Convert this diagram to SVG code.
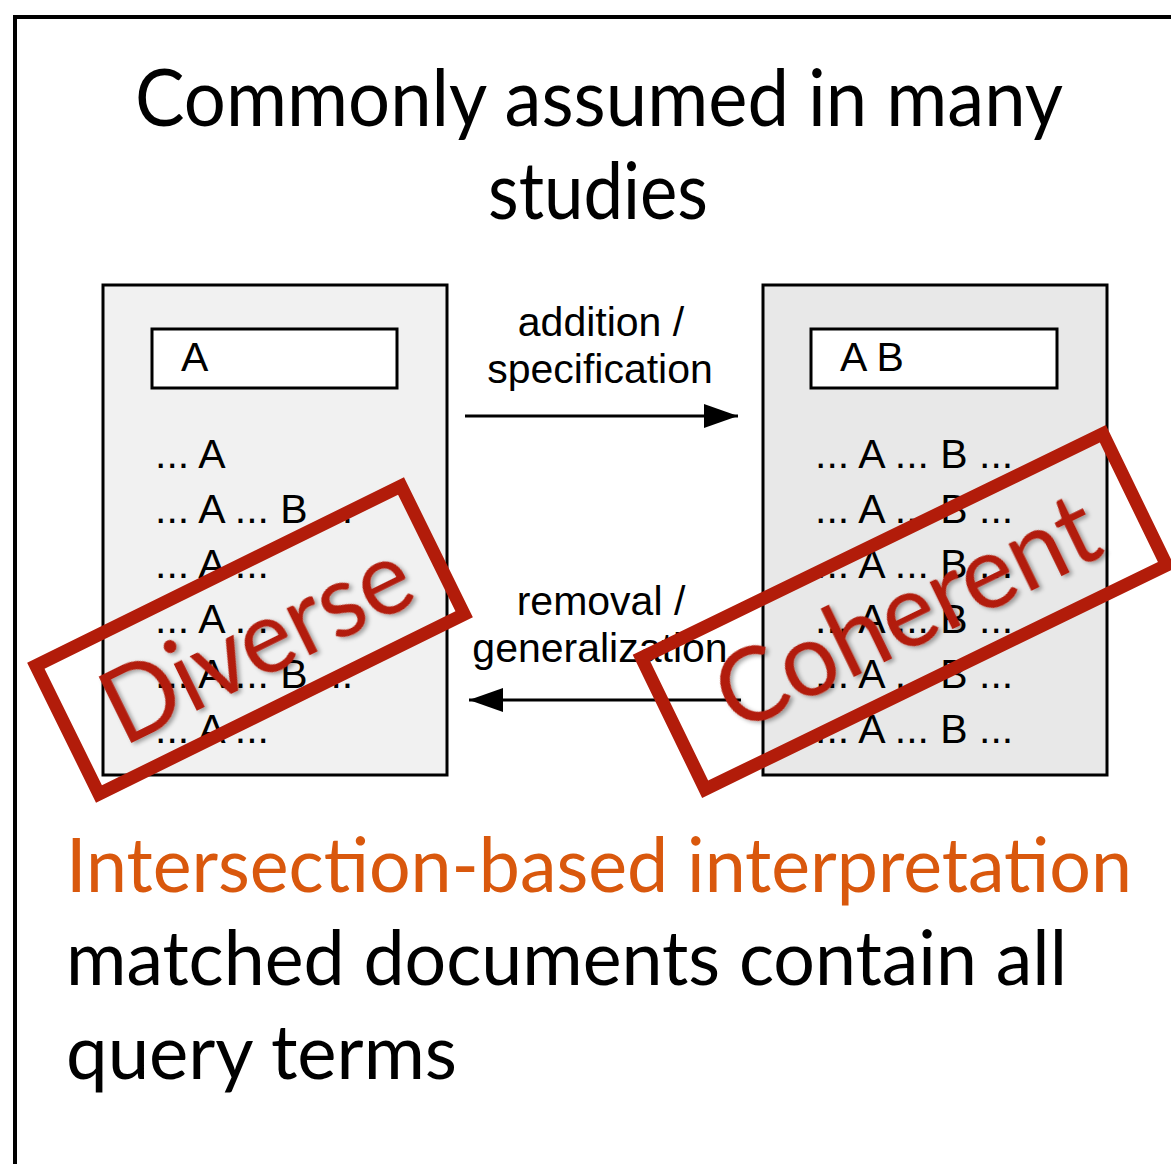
<svg xmlns="http://www.w3.org/2000/svg" width="1171" height="1164" viewBox="0 0 1171 1164">
  <style>
    .title { font-family: "Lato", "Open Sans", sans-serif; font-size: 79px; fill: #000; }
    .body { font-family: "Lato", "Open Sans", sans-serif; font-size: 76px; }
    .lbl { font-family: "Liberation Sans", Arial, sans-serif; font-size: 41px; fill: #000; }
    .doc { stroke: #000; stroke-width: 3; }
    .qbox { fill: #fff; stroke: #000; stroke-width: 3; }
    .conn { stroke: #000; stroke-width: 3; fill: none; }
    .stampRect { fill: none; stroke: #b21c0a; stroke-width: 13; }
    .stampText { font-family: "Lato", "Open Sans", sans-serif; font-size: 102px; fill: #b21c0a; filter: url(#shadow); }
  </style>
  <defs>
    <marker id="arr" viewBox="0 0 34 24" refX="34" refY="12" markerWidth="34" markerHeight="24" markerUnits="userSpaceOnUse" orient="auto">
      <path d="M0,0 L34,12 L0,24 Z" fill="#000"/>
    </marker>
    <filter id="shadow" x="-10%" y="-20%" width="120%" height="150%">
      <feDropShadow dx="2" dy="3" stdDeviation="2" flood-color="#000" flood-opacity="0.35"/>
    </filter>
  </defs>
  <rect x="0" y="0" width="1171" height="1164" fill="#fff"/>
  <!-- frame -->
  <rect x="15" y="17" width="1250" height="1250" fill="none" stroke="#000" stroke-width="4"/>

  <g id="title">
    <text class="title" x="599" y="126" text-anchor="middle" textLength="928" lengthAdjust="spacingAndGlyphs">Commonly assumed in many</text>
    <text class="title" x="598" y="219" text-anchor="middle" textLength="220" lengthAdjust="spacingAndGlyphs">studies</text>
  </g>

  <g id="doc-left">
    <rect class="doc" x="103" y="285" width="344" height="490" fill="#f1f1f1"/>
    <rect class="qbox" x="152" y="329" width="245" height="59"/>
    <text class="lbl" x="181" y="371">A</text>
    <text class="lbl" x="155" y="468">... A</text>
    <text class="lbl" x="155" y="523">... A ... B ...</text>
    <text class="lbl" x="155" y="578">... A ...</text>
    <text class="lbl" x="155" y="633">... A ...</text>
    <text class="lbl" x="155" y="688">... A ... B ...</text>
    <text class="lbl" x="155" y="743">... A ...</text>
  </g>

  <g id="doc-right">
    <rect class="doc" x="763" y="285" width="344" height="490" fill="#e8e8e8"/>
    <rect class="qbox" x="811" y="329" width="246" height="59"/>
    <text class="lbl" x="840" y="371">A B</text>
    <text class="lbl" x="815" y="468">... A ... B ...</text>
    <text class="lbl" x="815" y="523">... A ... B ...</text>
    <text class="lbl" x="815" y="578">... A ... B ...</text>
    <text class="lbl" x="815" y="633">... A ... B ...</text>
    <text class="lbl" x="815" y="688">... A ... B ...</text>
    <text class="lbl" x="815" y="743">... A ... B ...</text>
  </g>

  <g id="connectors">
    <line class="conn" x1="465" y1="416" x2="738" y2="416" marker-end="url(#arr)"/>
    <line class="conn" x1="741" y1="700" x2="469" y2="700" marker-end="url(#arr)"/>
    <text class="lbl" x="601" y="336" text-anchor="middle">addition /</text>
    <text class="lbl" x="600" y="383" text-anchor="middle">specification</text>
    <text class="lbl" x="601" y="615" text-anchor="middle">removal /</text>
    <text class="lbl" x="600" y="662" text-anchor="middle">generalization</text>
  </g>

  <g id="stamp-diverse" transform="translate(250,640) rotate(-26.2)">
    <rect class="stampRect" x="-203.5" y="-71.5" width="407" height="143"/>
    <text class="stampText" x="5" y="40" text-anchor="middle" textLength="332" lengthAdjust="spacingAndGlyphs">Diverse</text>
  </g>

  <g id="stamp-coherent" transform="translate(904,611.5) rotate(-25.9)">
    <rect class="stampRect" x="-256.5" y="-73" width="513" height="146"/>
    <text class="stampText" x="2" y="37" text-anchor="middle" textLength="412" lengthAdjust="spacingAndGlyphs">Coherent</text>
  </g>

  <g id="caption">
    <text class="body" x="66" y="892" fill="#d9580d" textLength="1066" lengthAdjust="spacingAndGlyphs">Intersection-based interpretation</text>
    <text class="body" x="66" y="985" fill="#000" textLength="1001" lengthAdjust="spacingAndGlyphs">matched documents contain all</text>
    <text class="body" x="66" y="1079" fill="#000" textLength="391" lengthAdjust="spacingAndGlyphs">query terms</text>
  </g>
</svg>
